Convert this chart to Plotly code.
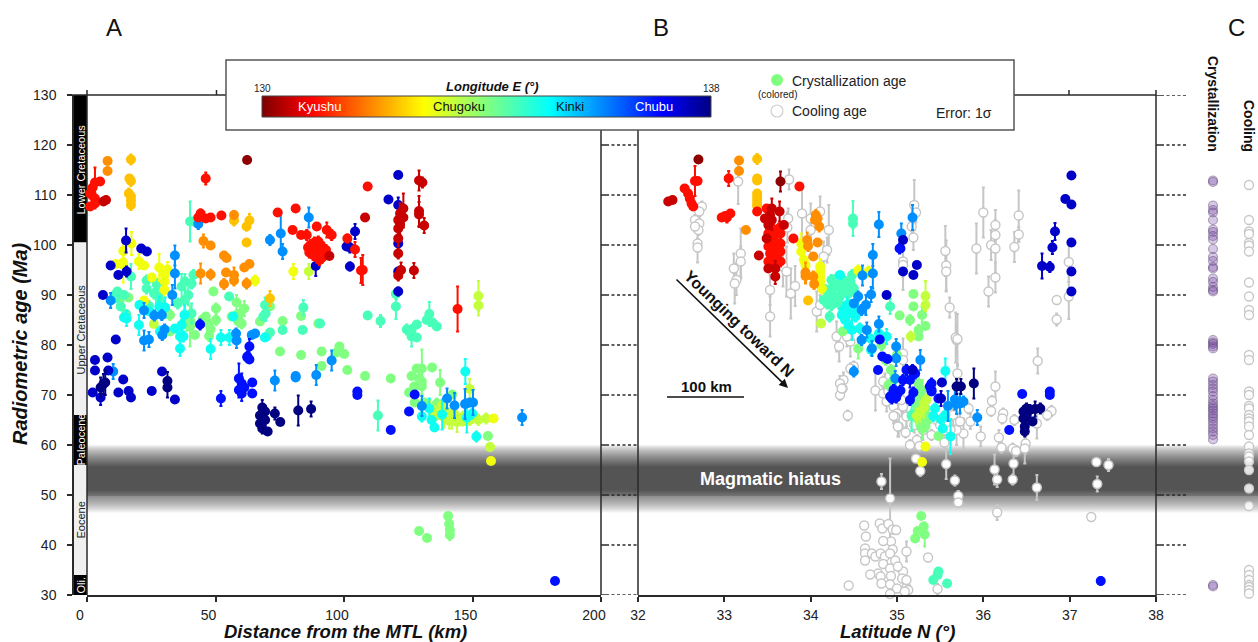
import plotly.graph_objects as go

W, H = 1258, 642
FONT = "Liberation Sans"

# ---------- Panel A: (distance from MTL km, age Ma, 1-sigma error), one list per longitude colour
A_130_1 = [(62.3,117,0)]
A_130_5 = [(129.2,112.9,2),(130.5,112.5,1),(123.1,107.3,3),(121.8,106.3,2),(123.1,105.5,2),(121.1,105,2),(121.8,104,2),(121.1,103.3,1.5),
           (129.2,106.8,3),(129.2,106.1,2.5),(131.2,103.9,1.5),(121.1,101.3,1.5),(121.1,98.3,1),(122.2,95,1.5),(127.2,94.9,1.5),(121.1,93.9,1),
           (108.2,105.5,0),(94.3,97.8,0),(6.4,108.7,0),(7.4,109,0)]
A_131 = [(1.2,110.3,1),(2.2,111.5,1),(3.1,112.5,3),(5.1,112.7,0),(3.1,109.3,1),(3.1,108.3,1),(1.2,107.7,0),(46.2,113.3,1.2),
         (43.3,105.5,0),(44.2,106.3,0.8),(46.2,105.3,0),(48.1,105.5,0),(52.3,105.9,0),(74.2,106.5,0),(81.2,107.3,0),(80,103,0),(83.3,102,0),(85.5,102,1),(89.4,103.7,0),
         (86,99.5,1),(87,100,1),(88,99,1),(89,100.3,1),(90,99.5,1),(91,100,1),(92,99,1),(88,98,1),(89,98.8,1),(90,98.2,1),(91,98.6,1),(92,97.8,1),(87,99,1),(89.5,97.5,1),(90.5,97,1),(91.5,97.5,1),(93,99,1),(86.5,98.5,1),(90,100.7,1),(88.5,100.5,1),
         (93.3,103,1.5),(95.2,102,1),(101.3,101.3,0.8),(104.3,99.1,1.5),(106.6,94.9,2.5),(107.3,95,3),(109.2,111.7,0),(144.2,87.2,4.5)]
A_132 = [(8,116.8,0),(8,114.8,0),(57.2,106,0.8),(45.3,100.8,1.3),(48.1,99.9,0),(53.3,97.9,0),(54.3,97.4,0),(63.2,96.2,0),(61.2,95.5,0),(44.2,94.3,2),(48.1,94.1,1),(54.1,94.5,0),(57.2,94,1.5),(57.2,92.9,1),(53.3,92.2,1),(62.1,92.3,1)]
A_132_4 = [(17.1,117.1,1),(16.5,113.3,0),(17.1,112.8,1),(16.3,110.3,1),(17.1,109.7,0),(17.1,108.9,0),(17.1,108,1),(57.2,104.9,1),(63.2,104.9,1.3),(62.1,103.7,0.8),(62.1,100.5,0),(71.2,89.3,1.5)]
A_133 = [(17.3,100.3,2.3),(14.1,98.8,0),(11.2,96.2,0),(14.1,96.5,4),(14.1,96,2),(20.2,96.7,1.5),(22.2,95.9,0),(25.2,93.5,0),(28.1,95.5,2.7),(31.3,95.1,1.5),(30.2,94,1.5),(30.2,92.7,1.5),(30.2,91,1.5),(22.2,88.9,0),(65.4,92.9,1),(80.3,94.7,1.5),(158.2,65.3,0),(157.2,56.8,0)]
A_133_5 = [(86.3,94.7,1.5),(26,84.2,0),(152.3,89.8,3),(152.3,87.9,2),(148.9,71.2,2),(156.8,59.6,0),(133.5,67.5,1.5),(135,66.8,1),(137,66.2,1),(138,67.8,1),(139,65.5,2),(140,66.5,1.5),(141,64.8,1.5),(142,65.3,2),(143,66.1,1),(144,64.6,2),(145,65.2,1),(146,64.9,1),(147,66,2),(149,65,1),(151,65.6,1),(152.3,65,1),(155.3,65.3,1)]
A_134 = [(49.2,90.7,0),(50.2,87.3,1),(50.2,85,1),(58.2,88.5,1.5),(61.2,87.3,1.5),(59.5,86.3,1.5),(57.6,85.7,1),(56.3,85.7,0),(58.9,84.7,1),(60.2,84.3,1),(46.2,85.7,0),(44.9,85.1,0),(47.2,84.3,1),(48.1,83.1,1.5),(47.5,81.8,1),
         (71.2,87.7,0),(76.1,84.8,0),(67.3,84.7,0),(83.3,85.8,0),(90,84.3,0),(75.1,78.7,0),(83.3,78,0),(91.3,78.7,0),(91.3,75.8,0),(97.1,78.5,0),(98.2,79.7,0),(100.1,78.2,0),(101.3,75,0),(108.2,73.8,0),(118.2,73.3,0),
         (128.3,75.3,0),(130.3,75.3,3.8),(134.3,75.5,0),(126.3,73.8,0),(129.2,73.3,1.5),(130.3,72.7,1.5),(130.3,71.7,1.5),(127.3,71.7,0),(125.3,70.5,0),(127.5,68.5,0),(137.4,72.5,2.5),(142.1,70.1,0),(136.1,68.3,1),(131.2,68.5,0),(135.2,65.7,0),
         (129.2,42.8,0),(132.3,41.4,0),(140.5,45.8,0),(140.9,44.2,1),(141.2,43,1),(141.2,42,1),(156,61.8,0),(12.8,89.1,0),(16.1,89.5,0),(32.3,86,1),(32.3,82.7,0),(42,82,0),(40.3,84.7,1.5),(38.8,84.3,1.5),(40.1,83.7,4)]
A_134_5 = [(11.8,90.7,0),(10.9,90,0),(10.9,89.3,0),(14.4,90,0),(13.1,87.7,0),(15.2,86.2,0),(23.2,92.9,1),(23.2,91.3,1),(27.1,92.2,1),(26.1,90.3,1),(27.8,89.7,1.5),(28.4,88.7,1),(24.1,87.8,1),(38.1,92.7,1.5),(36.8,91.7,2.5),(41.4,94,1),(40.7,92.3,1),(39.4,90,2),(38.1,89,2),(35.3,88.3,1),(40.7,86.3,2),
           (40.1,104.7,4),(41.6,104.7,0),(17.1,93.7,2.5),(55.3,89.7,0),(69.3,88,1.5),(84.2,87.5,1.5),(76.1,83,0),(71.2,82.5,0),(69.9,81.7,0),(68.6,85.7,0),(69.5,86.3,1.5),(83.9,83,0),
           (120.2,90.2,1),(120.2,87.7,2.5),(109.2,85.9,0),(114.2,84.8,1.2),(124.4,83.1,1),(126.3,83,1),(126.3,81.7,2),(128.3,84.1,0),(128.3,81.5,0),(133.2,86.2,2.4),(132.2,85,0),(134.4,84.5,0),(136.1,83.7,0),(90.7,84.3,0),(113.2,65.9,3)]
A_135 = [(15.4,85.3,1.5),(14.4,85.5,0),(20.2,84,2),(20.4,88,0),(24.3,86.7,0),(30.4,87.5,2),(28.1,87.7,2),(34.2,83.3,0),(36.2,81.7,1),(37.5,81.7,1),(28.4,82.7,1),(37.9,86,2),(36.8,84,1),(36.2,79.3,1.5),(48.1,79.2,2),(52.1,81.5,1.5),(55.4,81.5,1.5),(56.9,85.7,0),
         (147.2,74.7,2.5),(130.3,65.7,1),(133.2,67.3,2),(134.1,65,0),(138.2,66.1,3),(149.9,66.3,1),(147.8,65.5,3),(135.2,63.5,0),(151.5,61.7,1),(69.2,81.5,0)]
A_136 = [(34.2,97.9,2),(34.2,94.3,3),(33.2,90,2),(9.2,88.9,1.5),(22.2,86.9,1.5),(26.2,85.9,1),(29.1,86,1),(22.2,80.9,2),(24.1,81.1,1.5),(29.3,82,1),(30.2,83.1,1),(58,82.3,1),(58.2,80.9,1.5),(64.1,82,0),(65.4,82.3,0),
         (43.3,104.2,1),(75.4,102.3,4),(71.2,101,1),(76.1,98.7,1.5),(86.3,105.5,2),(10.2,74.7,1.5),(73.1,72.9,2),(81.2,73.8,0),(81.2,73.5,0),(89.2,74,2),(95.2,76.9,2),(140.1,69.3,2),(143,67.9,2.5),(147.1,68.2,3),(147.7,68.3,0),(148.9,68.5,0),(150.2,68.5,2.5),(130.3,67.8,2),(169.3,65.5,1.5)]
A_137 = [(44,84.1,1),(63.2,79.7,1.5),(62.4,77.7,1),(59.1,73.3,3),(59.1,71,1.5),(62.4,77.5,0),(63.2,77.1,0),(64.3,72.5,0),(64.3,70.3,0),(60.2,72.3,2),(61.2,71.5,1),(60.2,70.3,1.5),(52.1,69.3,1.5),(105.2,70.7,0),(105.2,70,0),(127.5,70.1,0),(125.3,66.7,0),(118.2,63,0),(182.1,32.8,0)]
A_137_5 = [(15.2,100.9,2.4),(21.1,99.3,0),(23.3,98.7,0),(9.2,95.9,0),(12.2,94,0),(15.4,94.7,1),(6.2,90,0),(11.2,81.1,0),(3.1,77,0),(3.1,74.9,0),(8,77.5,0),(8.3,74.9,0),(2.2,70.5,0),(5.3,69.5,1.5),(14.1,73.1,0),(12.2,70.5,0),(16.2,70.8,0),(17.1,69.5,0),(25.2,70.8,0),(29.2,74.7,0),(34.2,69.1,0),
           (104.3,102.7,1.5),(101,99.7,0),(102.3,99.5,1),(102.3,95.7,0.8),(117.3,109.1,0),(121.1,114,0.5),(121.1,108,1.5),(121.1,100.3,0),(121.1,94.7,0),(121.1,90.7,0.8),(89,95.8,2)]
A_138 = [(5.3,71.5,2),(7.1,72.5,2.5),(6.4,72.2,2),(31.3,72.8,1.8),(31.3,71.5,2),(68.2,67.5,1.5),(69.3,66.7,1),(67.3,65.9,1),(69.3,65,1),(67.3,64.3,1),(68.2,63.3,1),(70.3,62.7,0.5),(73.1,66.3,1.2),(75.2,64.6,0),(82.2,66.9,3),(87.2,67.2,1.5)]

# ---------- Panel B: (latitude N, age Ma, 1-sigma error)
B_130_1 = [(32.70,117.1,0),(33.65,112.7,2)]
B_130_5 = [(32.35,108.7,0),(32.4,109,0),(33.64,106.7,2),(33.55,107.3,2),(33.53,106,1),(33.47,105.3,0),(33.55,105,2),(33.69,104,0),(33.51,104,0),(33.49,101.3,0),(33.4,97.9,0),(33.59,95.3,1.5),(33.51,95.3,0),(33.59,93.7,1.5)]
B_131 = [(32.54,111.3,0),(32.58,110.3,1),(32.6,109.3,0),(32.62,108.3,0),(32.64,107.7,0),(32.66,112.8,3),(32.69,112.8,0),(33.05,113.3,1.5),(32.97,105.5,0),(33.01,105.8,0),(33.07,106.3,0),(33.03,105.5,1),(33.87,111.7,0),(33.38,106.7,0),(33.49,107.3,0),(33.8,101.3,0),
         (33.53,103.3,1),(33.57,103,1),(33.63,103.3,1),(33.51,102.3,1),(33.57,101.7,1),(33.65,102.3,1),(33.53,100.7,1),(33.61,100.3,1),(33.65,100.3,1),(33.51,99.7,1),(33.57,99.3,1),(33.63,99.3,1),(33.53,98.3,1),(33.61,98,1),(33.65,98.7,1),(33.55,97.3,1),(33.61,97,1),(33.51,96.7,1),(33.65,96.7,1),(33.57,96,1)]
B_132 = [(33.17,116.9,0),(33.17,114.8,0),(33.25,103,0),(34.06,106,1),(34.08,105.3,1),(34.1,103.7,1),(34.05,105,0),(33.96,101,1.5),(33.97,99.8,1),(34.08,100.5,0),(34.03,97.7,0),(33.94,94.5,2),(33.94,93.8,1.5),(34.03,93.7,1),(34.04,92.2,1)]
B_132_4 = [(33.38,117.2,1),(33.38,113.3,0),(33.38,112.9,0),(33.38,110.3,0),(33.38,109.7,0),(33.38,109,0),(33.38,108.3,0),(33.38,107.8,0),(33.97,88.9,0)]
B_133 = [(33.89,100.3,2),(33.89,98.7,1),(33.92,97,1),(33.94,96,1),(34.11,95.7,1.5),(34.11,94.7,2),(34.11,93.7,2),(34.11,92.7,2),(34.13,91.3,1),(34.55,94.9,1),(34.67,94.7,1),(35.33,59.7,0),(35.29,56.6,0)]
B_133_5 = [(34.12,84.3,0),(35.33,89.8,3),(35.33,88,1),(35.16,81.7,1),(35.34,69,1),(35.31,67.5,2),(35.27,66.7,2),(35.23,65.8,1.5)]
B_134 = [(35.03,85.9,0),(35.19,90.2,0),(35.19,87.7,0),(35.15,85,1),(35.29,86,1.5),(35.33,83.8,0),(35.25,81.7,0),(35.25,83,1),(34.55,79.3,2),(34.37,82.7,0),
         (35.25,72.3,2),(35.29,71,2),(35.23,70,1.5),(35.31,69.3,1),(35.21,68.3,1),(35.27,67.7,1.5),(35.33,67.3,1.5),(35.23,66.7,1),(35.29,66,1.5),(35.34,66,1),(35.25,65,2),(35.31,64.7,1.5),(35.36,65,1),(35.27,64,1.5),(35.33,63.7,1),(35.29,63.3,2),(35.48,61.8,0),
         (35.28,45.8,0),(35.31,43.7,0),(35.32,42.1,2.4),(35.24,42.8,0),(35.21,41.3,0),(34.9,72,1),(34.96,73,1),(34.93,75,1),(34.87,77,1),(35.0,78,1),(34.82,80,1)]
B_134_5 = [(34.49,105.3,3.5),(34.49,104.3,1),(34.92,87.7,1.5),(35.17,66,1),(35.17,65.8,3),(35.48,34.7,0),(35.47,34,0),(35.42,33,0),(35.58,32.3,0),
           (34.24,93,1),(34.3,93.3,1),(34.38,93,1),(34.48,94,1),(34.46,92.7,1),(34.32,91.7,2),(34.4,91.3,1),(34.24,91.3,1),(34.17,91,1),(34.21,89.7,1),(34.26,90,1),(34.34,89.7,2),(34.44,90.3,1.5),(34.5,91.3,1),(34.19,88.3,1),(34.24,88,1),(34.3,88.7,1),(34.36,87.7,1),(34.22,85.7,1),(34.15,89,0),(34.38,91.7,1),(34.28,92.3,1)]
B_135 = [(34.34,94,0),(34.42,88,1.5),(34.36,86,1),(34.4,85,1.5),(34.44,84,1.5),(34.48,83,2),(34.52,85.7,1),(34.44,86.3,1),(34.53,87.3,1.5),(34.57,83.3,1),(34.69,81.3,1.5),(34.79,82.3,1),(34.88,81.7,1.5),(34.7,79,1),
         (35.56,74.8,2.5),(35.44,67.3,1),(35.42,65.8,1),(35.51,65.1,1),(35.56,66,1),(35.53,63.3,0),(35.62,61.7,3.5),(34.38,87,1),(34.46,88,1)]
B_136 = [(34.6,93.9,2),(34.72,98,2.2),(34.72,94.3,3),(34.79,104.1,2.5),(35.18,105.5,2.5),(34.5,88.3,0),(34.55,89.7,1),(34.59,87,1),(34.64,88,2),(34.7,90.1,1.5),(34.65,83,1.5),(34.59,81,1),(34.71,79.3,1.5),(34.79,84.2,1.5),(34.99,79.7,1.5),(34.99,77.3,1.5),(34.5,74.7,1),(35.27,77,2),(34.98,73.3,1.5),
         (35.59,67.8,3),(35.67,69.1,2),(35.69,68.2,2),(35.73,68.3,2),(35.77,68.7,1),(35.93,65.5,1.5),(35.05,102.3,2)]
B_137 = [(34.8,81.1,0),(34.83,77.7,0),(34.89,77.2,0),(34.78,75,0),(35.07,73,1),(35.11,75,1),(35.18,75,1),(35.15,73,1.5),(35.21,74.3,1),(35.4,72.3,1),(35.4,71,1),(35.48,69.3,0),(34.96,71,1),(35.04,70.9,1),(35.19,70.5,1),(36.45,70.2,0),(36.77,70.7,0),(36.77,70,0),(36.3,63,0),
         (35.38,71.7,1),(35.4,70.7,0),(34.92,69.7,1),(34.99,69.5,1),(34.94,69.3,1),(37.36,32.8,0.8),(35.04,99.3,0),(35.03,99.3,1),(35.15,69,1)]
B_137_5 = [(34.88,90,0),(35.07,94.7,0),(35.23,96,0),(35.19,94,0),(35.07,101,0),(35.18,75,0),(35.52,72.5,0),(35.51,69.3,1.5),(37.02,113.9,0.5),(36.95,109.2,0),(37.02,108.1,0),(36.83,102.7,1.7),(36.8,99.5,1.3),(37.02,100.5,0),(36.68,95.8,2.5),(36.77,95.6,1),(37.02,94.7,0),(37.02,90.7,0)]
B_138 = [(35.89,72.3,3),(35.74,71.7,1.5),(35.69,71.7,1.5),(36.465,66.7,1),(36.5,67.3,1),(36.54,67,1),(36.6,67.2,1.5),(36.66,67.3,1),(36.465,65.3,1),(36.5,65.7,1),(36.57,64.7,0),(36.48,63.7,1),(36.48,62.7,1)]

# cooling ages in panel B: (latitude N, age Ma, 1-sigma error)
B_COOL = [(32.74,107.7,1),(32.71,106.7,1),(32.66,105,1),(32.71,104.3,1),(32.7,103,1),(32.66,103.7,1),(32.69,100.3,1),(32.69,99.5,3),(33.16,112.7,4.5),(33.75,113.1,2),(33.9,106.3,6),(34.11,106.7,3),(34,105.3,3),(34.21,103,5),(34,103,3),(33.74,105.3,2),(33.73,103.5,3),
          (33.19,98.3,5),(33.19,96.7,3),(33.11,95.3,3),(33.14,93,3),(33.12,92.3,4),(33.53,91,3),(33.53,85.7,4),(33.68,95.7,4),(33.72,94.7,5),(33.82,91.8,4),(33.77,90.3,5),(34.19,99,2.5),(34.15,97.7,3),(33.95,98.3,3),(34.07,86.7,4),(34.11,88,2),
          (34.3,81.7,3),(34.33,79.7,3),(34.46,80.7,3),(34.42,81.7,2),(34.5,75.7,1),(34.38,73,1.5),(34.34,72.3,1.5),(34.37,71.3,1),(34.34,70,1),(34.43,65.9,1),(34.75,70.9,4),(34.86,72.3,2),(34.84,70.3,2),(34.88,68.7,2),(34.96,67.7,2),(35,66.3,1.5),(34.98,65.7,2),(35.02,63.7,2),(35.07,67.7,2),(35.11,65.7,2),(35.07,78.3,3),(35.07,77,2),
          (35.2,108,5),(35.22,106.5,2),(35.17,103.7,2),(35.19,101.5,2.5),(35.07,96.7,3),(35.07,96,5),
          (35.69,81,3),(36.63,76.8,2.5),(36.14,71.7,3),(36.1,68.8,1),(36.09,66.8,1),(36.23,66.3,1),(36.22,65.3,1),(36.36,65,1),(36.18,61.5,1.5),(36.21,59.5,1),(36.34,59.3,1),(36.38,58.8,1),(36.49,60.3,2),(36.48,59.3,3),(36.79,66.8,1),(36.74,66,1),(36.62,64.3,3),(35.97,61.7,2),(35.85,64.7,1.5),(35.77,62.3,3),(35.69,63,3),(35.73,64.7,2),(35.83,67.3,1),(35.65,66,2),(35.7,74.3,1.5),
          (34.84,72.7,1),(34.9,70.7,2),(34.96,65.8,1.5),(35.01,63.7,2),(35.05,69,1),(35.23,61,1),(35.26,59.8,1),(35.46,65,1),(34.36,71.3,1),(34.46,75.3,1),
          (34.82,52.7,1.5),(34.92,49.3,8),(35.22,57.3,0),(35.27,54.8,1),(35.57,56.2,3),(35.67,52.9,1),(35.71,49.8,1),(35.71,48.5,0),(36.13,55.1,3),(36.16,53.1,1.5),(36.34,53.1,1),(36.35,56.3,2.5),(36.62,51.5,2.5),(36.16,46.5,1.5),(37.31,56.6,0.8),(37.45,56,1.2),(37.32,52.2,1.5),(37.25,45.6,0),
          (34.62,43.9,0),(34.64,41.7,0),(34.63,39.3,0),(34.63,38.3,0),(34.63,36.9,0),(34.71,38.3,0),(34.75,37.7,0),(34.8,44.3,0),(34.83,43.3,0),(34.9,44.2,0),(34.95,43.1,0),(34.99,43,0),(34.93,40.7,0),(34.84,40.8,0),(34.95,39.1,0),(34.81,38.3,0),(34.86,37.7,0),(34.92,38.3,0),(34.98,36.9,0),(34.84,36.2,0),(34.92,35.3,0),(34.78,34.3,0),(34.69,34.1,0),(34.81,33.7,0),(34.93,33.8,0),(35.07,34.7,0),(35.06,33.3,0),(34.82,32.3,0),(34.92,32.1,0),(35,31.3,0),(34.92,30.2,0),(35.11,31.5,0),(35.13,31,0),(35.09,30.7,0),(34.44,31.9,0),(35.11,38.7,2),(35.36,37.5,0),(35.47,31.2,1),(35.01,35.7,0),(35.11,33,0),
          (35.56,98.8,5),(35.57,95.9,5),(35.57,94.7,4),(35.61,87.5,2),(35.68,81.5,5),(35.7,81.2,5),(35.92,99.3,5),(36,106.5,5),(36.14,104,3),(36.14,102,3),(36.09,100,3),(36.14,99.3,5),(36.14,93.5,3),(36.06,90.7,3),(36.41,105.9,5),(36.41,102.1,1.5),(36.36,99.6,3),(36.99,96.6,4),(36.99,89.7,4.5),(36.85,89,0),(36.85,85.1,1.2),
          (35.3,63,2),(35.4,62,1),(35.55,60.5,1.5),(35.62,63,2),(35.5,64,1),(35.2,64,1.5),(35.1,62.5,1),(35.15,60,1)]

# ---------- Panel C strips (age, Ma)
C_CRYST = [112.9,112.6,107.9,107,106.5,105,103.1,102.6,101.8,101.1,99.2,97.6,96.8,95.6,95.3,93.3,92.6,91.6,91,90.7,
           81,80.5,80.2,79.7,79.3,73.3,72.7,72,71.3,70.7,69.8,69,68.3,67.8,67.3,66.9,66.3,65.8,65.3,64.7,64,63.3,62.7,62,61.1,32,31.7]
C_COOL = [112,105,102.7,102.2,100.4,99.9,98.7,92.5,89.7,87,86,78,77,70.7,70,67.8,67.3,66,65.3,64.7,63.7,62,59.7,58.3,57.7,56.7,55,51.3,47.8,35,34,33,32,31.6,31,30.3]

# ---------- Colour key, ticks, chronostratigraphy
COLORBAR_LON = [130,131,132,133,134,135,136,137,138]
TICKS_AGE = [30,40,50,60,70,80,90,100,110,120,130]
TICKS_DIST = [0,50,100,150,200]
TICKS_LAT = [32,33,34,35,36,37,38]
EPOCH_NAMES = ["Lower Cretaceous","Upper Cretaceous","Paleocene","Eocene","Oli."]
EPOCH_TOP = [130,100.5,66,56,34]
EPOCH_BOTTOM = [100.5,66,56,34,30]
EPOCH_LABEL_AGE = [115,83,61,45,32]

JET_R = [[0,"#800000"],[0.11,"#ff0000"],[0.36,"#ffff00"],[0.5,"#80ff80"],[0.64,"#00ffff"],[0.89,"#0000ff"],[1,"#000080"]]
INK = "#222222"
SPINE = "#2a2a2a"

def hex_rgb(h):
    return tuple(int(h[i:i+2], 16) for i in (1, 3, 5))

def lon_colour(lon):
    t = (lon - 130) / 8
    for (a, ca), (b, cb) in zip(JET_R[:-1], JET_R[1:]):
        if a <= t <= b:
            f = (t - a) / (b - a)
            p, q = hex_rgb(ca), hex_rgb(cb)
            return "rgb(%d,%d,%d)" % tuple(round(u + (v - u) * f) for u, v in zip(p, q))
    return JET_R[-1][1]

def px(x):
    return x / W

def py(y):
    return 1 - y / H

fig = go.Figure()

def add_points(points, lon, xa):
    col = lon_colour(lon)
    fig.add_trace(go.Scatter(
        x=[p[0] for p in points], y=[p[1] for p in points], xaxis=xa, yaxis="y",
        mode="markers", cliponaxis=False, showlegend=False,
        marker=dict(size=10, color=col, line=dict(width=0)),
        error_y=dict(type="data", array=[p[2] for p in points], color=col, thickness=2, width=1.5)))

ORDER_A = [(134,A_134),(134.5,A_134_5),(133.4,A_133_5),(133,A_133),(132.4,A_132_4),(132,A_132),(135,A_135),(136,A_136),(137,A_137),(137.5,A_137_5),(138,A_138),(131,A_131),(130.5,A_130_5),(130.1,A_130_1)]
ORDER_B = [(134,B_134),(134.5,B_134_5),(133.4,B_133_5),(133,B_133),(132.4,B_132_4),(132,B_132),(135,B_135),(136,B_136),(137,B_137),(137.5,B_137_5),(138,B_138),(131,B_131),(130.5,B_130_5),(130.1,B_130_1)]

for lon, pts in ORDER_A:
    add_points(pts, lon, "x")

fig.add_trace(go.Scatter(
    x=[p[0] for p in B_COOL], y=[p[1] for p in B_COOL], xaxis="x2", yaxis="y",
    mode="markers", cliponaxis=False, showlegend=False,
    marker=dict(size=9, color="white", line=dict(width=1.4, color="#c6c6c6")),
    error_y=dict(type="data", array=[p[2] for p in B_COOL], color="#c6c6c6", thickness=2, width=1.5)))
for lon, pts in ORDER_B:
    add_points(pts, lon, "x2")

fig.add_trace(go.Scatter(
    x=["Crystallization"] * len(C_CRYST), y=C_CRYST, xaxis="x3", yaxis="y", mode="markers",
    cliponaxis=False, showlegend=False,
    marker=dict(size=9, color="rgba(110,60,160,0.28)", line=dict(width=1.2, color="rgba(90,70,110,0.45)"))))
fig.add_trace(go.Scatter(
    x=["Cooling"] * len(C_COOL), y=C_COOL, xaxis="x3", yaxis="y", mode="markers",
    cliponaxis=False, showlegend=False,
    marker=dict(size=9, color="rgba(255,255,255,0.85)", line=dict(width=1.3, color="#c6c6c6"))))

fig.add_trace(go.Heatmap(x=COLORBAR_LON, y=[0, 1], z=[COLORBAR_LON, COLORBAR_LON], xaxis="x4", yaxis="y2",
                         colorscale=JET_R, zmin=130, zmax=138, zsmooth="best", showscale=False, hoverinfo="skip"))

shapes = []

def rect(x0, y0, x1, y1, fill, line=None, lw=0, xref="paper", yref="paper", layer="below"):
    shapes.append(dict(type="rect", x0=x0, y0=y0, x1=x1, y1=y1, xref=xref, yref=yref, fillcolor=fill,
                       line=dict(color=line or fill, width=lw), layer=layer))

def seg(x0, y0, x1, y1, color=SPINE, lw=1.5, dash="solid", xref="paper", yref="paper"):
    shapes.append(dict(type="line", x0=x0, y0=y0, x1=x1, y1=y1, xref=xref, yref=yref,
                       line=dict(color=color, width=lw, dash=dash), layer="below"))

# magmatic hiatus band
DARK = (84, 84, 84)
def ramp(f):
    return "rgb(%d,%d,%d)" % tuple(round(255 + (d - 255) * f) for d in DARK)

rect(px(87), 51, 1, 55.6, ramp(1), xref="paper", yref="y")
n = 22
for i in range(n):
    f = ((i + 0.5) / n) ** 0.7
    rect(px(87), 60 - 4.4 * i / n, 1, 60 - 4.4 * (i + 1) / n, ramp(f), xref="paper", yref="y")
    rect(px(87), 46.5 + 4.5 * i / n, 1, 46.5 + 4.5 * (i + 1) / n, ramp(f), xref="paper", yref="y")

# chronostratigraphic column
for name, top, bottom in zip(EPOCH_NAMES, EPOCH_TOP, EPOCH_BOTTOM):
    dark = name in ("Lower Cretaceous", "Paleocene", "Oli.")
    rect(px(73), bottom, px(87), top, "#000000" if dark else "#f0f0f0", xref="paper", yref="y")

# spines and top frame
seg(px(87), py(95), px(87), py(595))
seg(px(601), py(130), px(601), py(595))
seg(px(638), py(130), px(638), py(595))
seg(px(1156), py(90), px(1156), py(600))
seg(px(68), py(95), px(226), py(95))
seg(px(1014), py(95), px(1156), py(95))
seg(px(87), py(90), px(87), py(95))
seg(px(216.5), py(90), px(216.5), py(95))
seg(px(1069), py(90), px(1069), py(95))

# dotted extensions of the age ticks
for age in TICKS_AGE:
    if age < 130:
        seg(px(601), age, px(606), age, xref="paper", yref="y")
        seg(px(606), age, px(638), age, dash="3px,2.5px", xref="paper", yref="y")
    seg(px(1156), age, px(1161), age, xref="paper", yref="y")
    seg(px(1161), age, px(1186), age, dash="3px,2.5px", xref="paper", yref="y")

# key box
rect(px(226), py(130), px(1014), py(60), "#ffffff", "#555555", 1.5)
shapes.append(dict(type="rect", x0=px(262), x1=px(711), y0=py(117), y1=py(96), xref="paper", yref="paper",
                   line=dict(color="#444444", width=1), layer="above", fillcolor="rgba(0,0,0,0)"))
shapes.append(dict(type="circle", x0=px(771), x1=px(783), y0=py(86), y1=py(74), xref="paper", yref="paper",
                   fillcolor="#80ff80", line=dict(color="#80ff80", width=0), layer="above"))
shapes.append(dict(type="circle", x0=px(771), x1=px(783), y0=py(117), y1=py(105), xref="paper", yref="paper",
                   fillcolor="#ffffff", line=dict(color="#d0d0d0", width=1.2), layer="above"))
# scale bar
seg(px(667), py(397), px(744), py(397), color="#111111", lw=1.3)

anns = []

def note(text, x, y, size, color=INK, angle=0, xref="paper", yref="paper", xanchor="center"):
    anns.append(dict(text=text, x=x, y=y, xref=xref, yref=yref, showarrow=False, textangle=angle,
                     xanchor=xanchor, yanchor="middle", font=dict(family=FONT, size=size, color=color)))

note("A", px(113.5), py(27.5), 24, "#111111")
note("B", px(661), py(27.5), 24, "#111111")
note("C", px(1236), py(27.5), 24, "#111111")
note("<b><i>Radiometric age (Ma)</i></b>", px(20), py(344), 20, "#111111", angle=-90)
note("<b><i>Distance from the MTL (km)</i></b>", px(345), py(631.5), 18.5, "#111111")
note("<b><i>Latitude N (°)</i></b>", px(897), py(631.5), 18.5, "#111111")
note("<b>Crystallization</b>", px(1213), py(104), 14, "#111111", angle=90)
note("<b>Cooling</b>", px(1249), py(126), 14, "#111111", angle=90)
note("<b>Magmatic hiatus</b>", px(770), py(479), 18, "#ffffff")
note("<b>Younging toward N</b>", px(739), py(323), 16, "#111111", angle=44)
note("<b>100 km</b>", px(706), py(386), 15, "#111111")
note("<b><i>Longitude E (°)</i></b>", px(492), py(86), 13, "#111111")
note("130", px(262), py(88), 10, "#222222")
note("138", px(711), py(88), 10, "#222222")
note("Kyushu", px(319), py(106), 13, "#ffffff")
note("Chugoku", px(459), py(106), 13, "#111111")
note("Kinki", px(570), py(106), 13, "#111111")
note("Chubu", px(654), py(106), 13, "#ffffff")
note("Crystallization age", px(789.5), py(81), 14, "#222222", xanchor="left")
note("(colored)", px(777), py(94), 10, "#222222")
note("Cooling age", px(789.5), py(111), 14, "#222222", xanchor="left")
note("Error: 1σ", px(934), py(113), 14, "#222222", xanchor="left")
for name, age in zip(EPOCH_NAMES, EPOCH_LABEL_AGE):
    dark = name in ("Lower Cretaceous", "Paleocene", "Oli.")
    note(name, px(80.5), age, 11, "#ffffff" if dark else "#222222", angle=-90, yref="y")

anns.append(dict(x=px(788), y=py(388), xref="paper", yref="paper", ax=-113, ay=-110, axref="pixel", ayref="pixel",
                 text="", showarrow=True, arrowhead=2, arrowsize=1.1, arrowwidth=1.6, arrowcolor="#111111"))

tickfont = dict(family=FONT, size=14, color=INK)
fig.update_layout(
    width=W, height=H, margin=dict(l=0, r=0, t=0, b=0, autoexpand=False), autosize=False,
    paper_bgcolor="white", plot_bgcolor="rgba(0,0,0,0)", shapes=shapes, annotations=anns, showlegend=False,
    xaxis=dict(domain=[px(87), px(601)], range=[0, 200], anchor="y", tickmode="array", tickvals=TICKS_DIST,
               ticks="outside", ticklen=5, tickwidth=1.5, tickcolor=SPINE, showline=True, linecolor=SPINE, linewidth=2,
               showgrid=False, zeroline=False, tickfont=tickfont, ticklabelshift=-7, ticklabelstandoff=1),
    xaxis2=dict(domain=[px(638), px(1156)], range=[32, 38], anchor="y", tickmode="array", tickvals=TICKS_LAT,
                ticks="outside", ticklen=5, tickwidth=1.5, tickcolor=SPINE, showline=True, linecolor=SPINE, linewidth=2,
                showgrid=False, zeroline=False, tickfont=tickfont, ticklabelstandoff=1),
    xaxis3=dict(domain=[px(1190), 1], range=[-0.639, 1.25], anchor="y", visible=False, type="category",
                categoryorder="array", categoryarray=["Crystallization", "Cooling"]),
    xaxis4=dict(domain=[px(262), px(711)], range=[130, 138], anchor="y2", visible=False),
    yaxis=dict(domain=[py(595), py(95)], range=[30, 130], anchor="free", position=px(73), tickmode="array",
               tickvals=TICKS_AGE, ticks="outside", ticklen=5, tickwidth=1.5, tickcolor=SPINE, showline=True,
               linecolor=SPINE, linewidth=1.5, showgrid=False, zeroline=False, tickfont=tickfont, ticklabelstandoff=8),
    yaxis2=dict(domain=[py(117), py(96)], range=[0, 1], anchor="x4", visible=False),
)

fig.write_html("out.html", config={"displayModeBar": False},
               post_script="document.body.style.margin='0';document.body.style.overflow='hidden';window.dispatchEvent(new Event('resize'));")
